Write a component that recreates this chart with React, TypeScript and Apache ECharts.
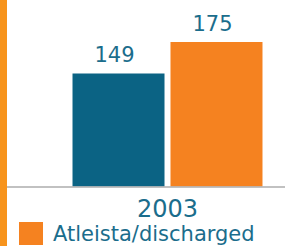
import React, { useEffect, useRef } from "react";
import * as echarts from "echarts";

const categories = ["2003"];
const seriesNames = ["Kotiutettu/other", "Atleista/discharged"];
const blueValues = [149];
const orangeValues = [175];
const legendItems = ["Atleista/discharged"];

const BLUE = "#0b6384";
const ORANGE = "#f58220";
const TEXT = "#1b6d8c";
const FONT = "DejaVu Sans";

export default function App() {
  const ref = useRef<HTMLDivElement>(null);
  useEffect(() => {
    document.body.style.margin = "0";
    const chart = echarts.init(ref.current!, null, { renderer: "svg" });
    chart.setOption({
      animation: false,
      backgroundColor: "#ffffff",
      grid: { left: 50, right: 0, top: 0, bottom: 59.5 },
      legend: {
        data: legendItems,
        left: 19,
        top: 222,
        itemWidth: 24,
        itemHeight: 23,
        icon: "rect",
        padding: 0,
        textStyle: {
          fontFamily: FONT,
          fontSize: 21,
          color: TEXT,
          padding: [0, 0, 0, 5],
        },
      },
      xAxis: {
        type: "category",
        data: categories,
        axisLine: { show: false },
        axisTick: { show: false },
        axisLabel: {
          fontFamily: FONT,
          fontSize: 24,
          color: TEXT,
          margin: 10,
        },
      },
      yAxis: {
        type: "value",
        min: 55,
        max: 210,
        show: false,
        splitLine: { show: false },
      },
      graphic: [
        {
          type: "line",
          shape: { x1: 0, y1: 187, x2: 285, y2: 187 },
          style: { stroke: "#adadad", lineWidth: 1.5 },
          z: 10,
        },
        {
          type: "rect",
          shape: { x: 0, y: 0, width: 7, height: 246 },
          style: { fill: "#f7941d" },
          z: 11,
        },
      ],
      series: [
        {
          name: seriesNames[0],
          type: "bar",
          data: blueValues,
          barWidth: 92,
          barGap: "6.5%",
          itemStyle: { color: BLUE },
          label: {
            show: true,
            position: "top",
            distance: 8,
            offset: [-4, 0],
            fontFamily: FONT,
            fontSize: 21,
            color: TEXT,
          },
        },
        {
          name: seriesNames[1],
          type: "bar",
          data: orangeValues,
          barWidth: 92,
          itemStyle: { color: ORANGE },
          label: {
            show: true,
            position: "top",
            distance: 8,
            offset: [-4, 0],
            fontFamily: FONT,
            fontSize: 21,
            color: TEXT,
          },
        },
      ],
    });
    return () => chart.dispose();
  }, []);
  return <div ref={ref} style={{ width: 285, height: 246 }} />;
}
